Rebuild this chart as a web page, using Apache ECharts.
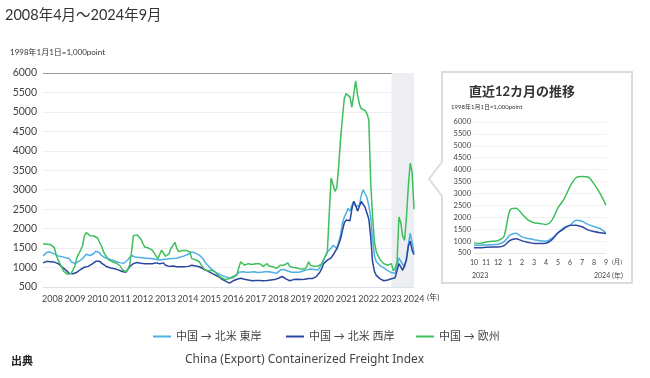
<!DOCTYPE html>
<html>
<head>
<meta charset="utf-8">
<script src="https://cdn.jsdelivr.net/npm/echarts@6/dist/echarts.min.js"></script>
<style>
html,body{margin:0;padding:0;background:#fff;}
#c{width:650px;height:378px;}
</style>
</head>
<body>
<div id="c"></div>
<script>
// ---- Data ----
const seriesNames = ['中国 → 北米 東岸', '中国 → 北米 西岸', '中国 → 欧州'];
const startYear = 2008, startMonth = 4, monthCount = 198;
const months = [];
for (let i = 0; i < monthCount; i++) {
  const y = startYear + Math.floor((startMonth - 1 + i) / 12);
  const m = (startMonth - 1 + i) % 12 + 1;
  months.push(y + '-' + (m < 10 ? '0' + m : m));
}
// 中国 → 北米 東岸 (monthly, Apr 2008 – Sep 2024)
const eastCoast = [
  1300,1340,1390,1400,1390,1370,1350,1320,1300,
  1290,1280,1270,1250,1240,1230,1150,1100,1100,1120,1160,1190,
  1230,1260,1340,1350,1310,1330,1360,1420,1440,1380,1310,1280,
  1250,1230,1220,1200,1190,1170,1150,1140,1120,1100,1110,1150,
  1200,1230,1310,1300,1270,1270,1260,1250,1250,1240,1240,1230,
  1230,1230,1220,1210,1200,1190,1200,1210,1215,1220,1225,1230,
  1230,1235,1240,1250,1270,1290,1300,1310,1340,1380,1400,1390,
  1370,1350,1320,1270,1220,1140,1080,1030,980,950,900,850,
  840,810,800,780,760,745,730,725,740,770,820,880,
  890,890,900,880,870,880,880,890,880,870,870,880,
  890,890,890,890,880,870,860,850,880,935,960,950,
  920,910,910,880,880,880,880,880,890,910,915,940,
  950,960,960,950,940,940,1000,1100,1200,1300,1400,1450,
  1500,1570,1520,1490,1650,1830,2150,2300,2400,2520,2450,2600,
  2700,2570,2520,2600,2850,3000,2950,2800,2600,2300,1750,1300,
  1150,1100,1050,1020,990,960,920,880,870,830,850,880,
  1250,1200,1080,1000,1250,1600,1880,1650,1380
];
// 中国 → 北米 西岸
const westCoast = [
  1120,1140,1160,1160,1150,1140,1140,1120,1100,
  1060,1020,980,940,900,850,810,840,860,880,920,950,
  980,1010,1020,1030,1060,1090,1120,1160,1190,1160,1140,1080,
  1040,1020,1000,990,980,970,960,940,930,900,870,880,
  950,1020,1060,1100,1140,1130,1120,1110,1100,1100,1100,1100,
  1100,1100,1110,1120,1140,1100,1130,1120,1060,1020,1030,1040,
  1040,1030,1020,1020,1020,1020,1020,1020,1030,1040,1060,1050,
  1040,1030,1020,1000,970,940,920,900,870,850,820,780,
  770,740,700,680,650,620,600,640,660,685,700,720,
  725,720,700,690,680,670,660,665,670,670,670,665,
  660,660,665,670,680,685,690,700,725,745,770,740,
  710,680,660,670,690,700,700,690,690,690,700,710,
  720,720,717,730,760,785,880,970,1100,1140,1190,1230,
  1250,1300,1400,1480,1600,1740,1950,2150,2220,2250,2200,2500,
  2700,2600,2450,2500,2700,2650,2550,2400,2250,1800,1150,900,
  800,760,710,680,660,660,680,700,710,730,740,760,
  1100,1050,930,910,1200,1550,1680,1450,1330
];
// 中国 → 欧州
const europe = [
  1610,1600,1600,1590,1590,1560,1510,1330,1190,
  1100,1000,900,860,830,830,850,950,1050,1260,1300,1450,
  1560,1820,1900,1880,1820,1810,1810,1790,1760,1650,1560,1420,
  1330,1260,1190,1160,1150,1140,1110,1070,1040,950,910,890,
  950,1060,1400,1820,1870,1840,1800,1730,1620,1530,1520,1500,
  1480,1450,1400,1300,1230,1220,1450,1400,1290,1320,1360,1500,
  1560,1650,1500,1410,1420,1440,1440,1440,1420,1400,1230,1190,
  1200,1220,1150,1070,1000,940,980,920,890,930,900,860,
  800,770,730,720,690,690,720,740,770,780,820,1000,
  1150,1180,1060,1080,1100,1070,1080,1100,1100,1100,1100,1060,
  1030,1070,1100,1040,1020,1020,1010,980,1000,1060,1060,1060,
  1080,1120,1030,1000,1000,1000,990,980,960,915,960,1020,
  1150,1060,1040,1030,1030,1040,1060,1090,1200,1250,1400,2400,
  3300,3350,2960,3050,3600,4300,4850,5350,5470,5500,5380,5120,
  5450,5800,5450,5200,5080,5050,5040,4960,4800,3200,2300,1650,
  1400,1300,1200,1150,1100,1090,1060,1050,1100,920,980,1150,
  2300,2150,1800,1700,2300,3100,3680,3450,2500
];
// Inset: last 12 months, half-month steps (0 = Oct 2023 … 11 = Sep 2024)
const insetT = [0,0.5,1,1.5,2,2.5,3,3.5,4,4.5,5,5.5,6,6.5,7,7.5,8,8.5,9,9.5,10,10.5,11];
const insetEast = [825,826,840,850,870,965,1250,1330,1175,1110,1060,1010,995,1120,1350,1580,1670,1870,1830,1700,1610,1530,1345];
const insetWest = [725,725,740,750,753,810,1030,1100,1010,950,900,895,910,1060,1350,1520,1660,1670,1600,1470,1400,1350,1317];
const insetEurope = [925,900,960,990,1020,1200,2300,2380,2140,1890,1770,1740,1700,1880,2400,2760,3290,3660,3710,3690,3400,3000,2510];
const insetMonthLabels = ['10','11','12','1','2','3','4','5','6','7','8','9'];
const shadeRange = ['2023-09', '2024-09'];

// ---- Chart ----
const colors = ['#4fb0e3', '#2a46a0', '#3dbf5c'];
const FONT = 'Lato, "Noto Sans CJK JP", sans-serif';
const chart = echarts.init(document.getElementById('c'), null, {renderer: 'canvas'});
const pair = (xs, ys) => xs.map((x, i) => [x, ys[i]]);
const gridColors = ['#dde2ea','#efefef','#efefef','#efefef','#efefef','#efefef','#efefef','#efefef','#efefef','#efefef','#efefef','#9a9a9a'];
const insetGridColors = ['#e6e6e6','#f1f1f1','#f1f1f1','#f1f1f1','#f1f1f1','#f1f1f1','#f1f1f1','#f1f1f1','#f1f1f1','#f1f1f1','#f1f1f1','#f1f1f1'];
const legendBase = {
  top: 326, icon: 'rect', itemWidth: 18, itemHeight: 2, itemGap: 7,
  textStyle: {fontSize: 11, color: '#444', fontFamily: FONT}
};

chart.setOption({
  animation: false,
  backgroundColor: '#fff',
  textStyle: {fontFamily: FONT},
  color: colors,
  legend: [
    Object.assign({data: [seriesNames[0]], left: 148}, legendBase),
    Object.assign({data: [seriesNames[1]], left: 281}, legendBase),
    Object.assign({data: [seriesNames[2]], left: 411}, legendBase)
  ],
  grid: [
    {left: 43, right: 236, top: 73, bottom: 91},
    {left: 474, right: 44, top: 122, bottom: 125}
  ],
  xAxis: [
    {
      type: 'category', gridIndex: 0, data: months, boundaryGap: false,
      axisLine: {show: false}, axisTick: {show: false},
      axisLabel: {
        interval: (i, v) => v.slice(5) === '09',
        formatter: v => v.slice(0, 4),
        fontSize: 9, color: '#444', margin: 8, fontFamily: FONT
      },
      splitLine: {show: false}
    },
    {
      type: 'value', gridIndex: 1, min: 0, max: 11, interval: 1,
      axisLine: {show: false}, axisTick: {show: false},
      axisLabel: {formatter: v => insetMonthLabels[v], fontSize: 7, color: '#444', margin: 6, fontFamily: FONT},
      splitLine: {show: false}
    }
  ],
  yAxis: [
    {
      type: 'value', gridIndex: 0, min: 500, max: 6000, interval: 500,
      axisLine: {show: false}, axisTick: {show: false},
      axisLabel: {formatter: v => String(v), fontSize: 10.5, color: '#444', margin: 6, fontFamily: FONT},
      splitLine: {lineStyle: {color: gridColors, width: 1}}
    },
    {
      type: 'value', gridIndex: 1, min: 500, max: 6000, interval: 500,
      axisLine: {show: false}, axisTick: {show: false},
      axisLabel: {formatter: v => String(v), fontSize: 7.5, color: '#444', margin: 3, fontFamily: FONT},
      splitLine: {lineStyle: {color: insetGridColors, width: 1}}
    }
  ],
  series: [
    {name: seriesNames[0], type: 'line', xAxisIndex: 0, yAxisIndex: 0, data: eastCoast,
     showSymbol: false, lineStyle: {width: 1.5, color: colors[0]},
     markArea: {silent: true, itemStyle: {color: '#eceef2'}, data: [[{xAxis: shadeRange[0]}, {xAxis: shadeRange[1]}]]}},
    {name: seriesNames[1], type: 'line', xAxisIndex: 0, yAxisIndex: 0, data: westCoast,
     showSymbol: false, lineStyle: {width: 1.5, color: colors[1]}},
    {name: seriesNames[2], type: 'line', xAxisIndex: 0, yAxisIndex: 0, data: europe,
     showSymbol: false, lineStyle: {width: 1.5, color: colors[2]}},
    {name: seriesNames[0], type: 'line', xAxisIndex: 1, yAxisIndex: 1, data: pair(insetT, insetEast),
     showSymbol: false, smooth: 0.3, lineStyle: {width: 1.5, color: colors[0]}},
    {name: seriesNames[1], type: 'line', xAxisIndex: 1, yAxisIndex: 1, data: pair(insetT, insetWest),
     showSymbol: false, smooth: 0.3, lineStyle: {width: 1.5, color: colors[1]}},
    {name: seriesNames[2], type: 'line', xAxisIndex: 1, yAxisIndex: 1, data: pair(insetT, insetEurope),
     showSymbol: false, smooth: 0.3, lineStyle: {width: 1.5, color: colors[2]}}
  ],
  graphic: [
    {type: 'polygon', z: -10, shape: {points: [[442,72],[632,72],[632,283],[442,283],[442,196],[429,179],[442,162]]},
     style: {fill: '#fff', stroke: '#dcdcdc', lineWidth: 2}},
    {type: 'text', left: 5, top: 8, style: {text: '2008年4月～2024年9月', font: '14.5px ' + FONT, fill: '#333'}},
    {type: 'text', left: 10, top: 48, style: {text: '1998年1月1日=1,000point', font: '8px ' + FONT, fill: '#333'}},
    {type: 'text', left: 427, top: 293, style: {text: '(年)', font: '8px ' + FONT, fill: '#444'}},
    {type: 'text', x: 522, y: 92, style: {text: '直近12カ月の推移', font: 'bold 13px ' + FONT, fill: '#333', textAlign: 'center', textVerticalAlign: 'middle'}},
    {type: 'text', left: 451, top: 104, style: {text: '1998年1月1日=1,000point', font: '6px ' + FONT, fill: '#333'}},
    {type: 'text', left: 612, top: 259, style: {text: '(月)', font: '6.5px ' + FONT, fill: '#444'}},
    {type: 'text', left: 472, top: 272, style: {text: '2023', font: '7px ' + FONT, fill: '#444'}},
    {type: 'text', left: 594, top: 272, style: {text: '2024 (年)', font: '7px ' + FONT, fill: '#444'}},
    {type: 'text', left: 11, top: 356, style: {text: '出典', font: 'bold 11px ' + FONT, fill: '#222'}},
    {type: 'text', left: 185, top: 354, style: {text: 'China (Export) Containerized Freight Index', font: '12px "Noto Sans", sans-serif', fill: '#444'}}
  ]
});
</script>
</body>
</html>
